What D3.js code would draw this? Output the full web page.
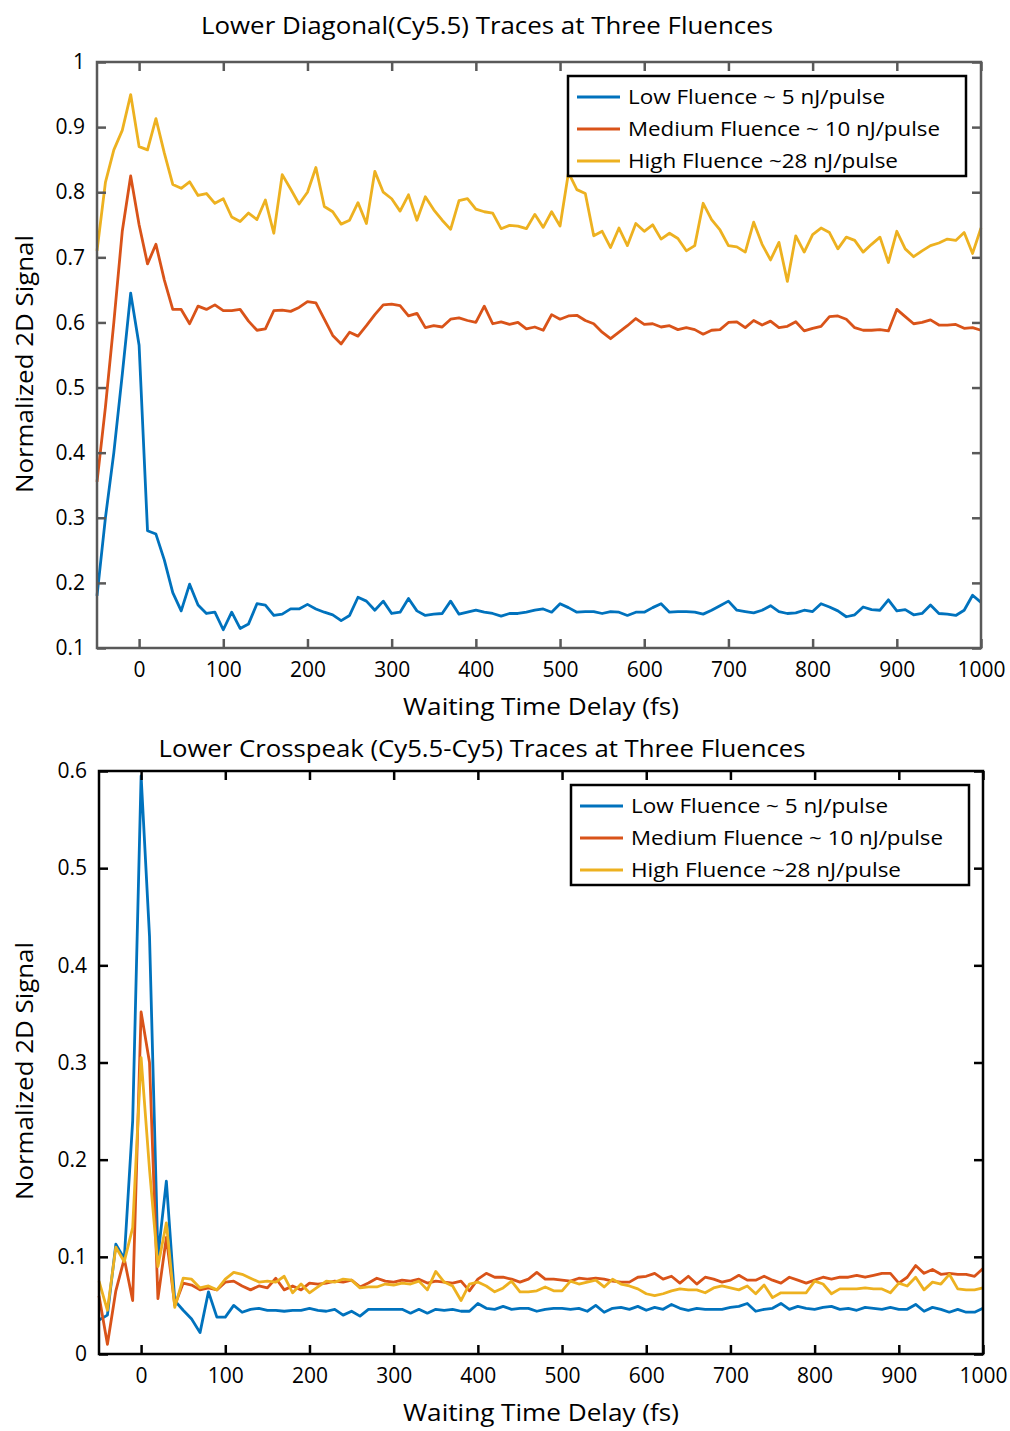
<!DOCTYPE html>
<html>
<head>
<meta charset="utf-8">
<script src="https://cdn.jsdelivr.net/npm/d3@7"></script>
<style>
  body { margin: 0; background: #fff; }
  svg text { font-family: "Open Sans", "Noto Sans", sans-serif; fill: #000; }
</style>
</head>
<body>
<div id="container"></div>
<script>
/* DATA */
const waitTimes = [-50,-40,-30,-20,-10,0,10,20,30,40,50,60,70,80,90,100,110,120,130,140,150,160,170,180,190,200,
  210,220,230,240,250,260,270,280,290,300,310,320,330,340,350,360,370,380,390,400,410,420,430,440,450,
  460,470,480,490,500,510,520,530,540,550,560,570,580,590,600,610,620,630,640,650,660,670,680,690,700,
  710,720,730,740,750,760,770,780,790,800,810,820,830,840,850,860,870,880,890,900,910,920,930,940,950,
  960,970,980,990,1000];

const seriesNames = ["Low Fluence ~ 5 nJ/pulse", "Medium Fluence ~ 10 nJ/pulse", "High Fluence ~28 nJ/pulse"];

// top panel : lower diagonal (Cy5.5)
const diagLow = [0.18,0.30,0.40,0.52,0.645,0.565,0.28,0.275,0.235,0.185,0.157,0.198,0.166,0.153,0.155,0.128,
  0.155,0.13,0.137,0.168,0.166,0.15,0.152,0.16,0.16,0.167,0.16,0.155,0.151,0.142,0.15,0.178,0.172,0.158,0.172,
  0.153,0.155,0.176,0.157,0.15,0.152,0.153,0.172,0.152,0.155,0.158,0.155,0.153,0.149,0.153,0.153,0.155,0.158,
  0.16,0.155,0.168,0.162,0.155,0.156,0.156,0.153,0.156,0.155,0.15,0.155,0.155,0.162,0.168,0.155,0.156,0.156,
  0.155,0.152,0.158,0.165,0.172,0.158,0.156,0.154,0.158,0.165,0.156,0.153,0.154,0.158,0.156,0.168,0.163,0.157,
  0.148,0.151,0.163,0.159,0.158,0.174,0.157,0.159,0.151,0.153,0.166,0.153,0.152,0.15,0.158,0.181,0.17];
const diagMedium = [0.355,0.47,0.6,0.74,0.825,0.75,0.69,0.72,0.665,0.62,0.62,0.598,0.625,0.62,0.627,0.618,
  0.618,0.62,0.602,0.588,0.59,0.618,0.619,0.617,0.623,0.632,0.63,0.605,0.58,0.567,0.585,0.579,0.595,0.612,0.627,
  0.628,0.626,0.61,0.614,0.592,0.595,0.593,0.605,0.607,0.603,0.6,0.625,0.598,0.601,0.597,0.6,0.59,0.593,0.588,
  0.612,0.605,0.61,0.611,0.603,0.598,0.585,0.575,0.585,0.595,0.606,0.597,0.598,0.593,0.595,0.589,0.592,0.589,
  0.582,0.588,0.589,0.6,0.601,0.592,0.603,0.596,0.602,0.592,0.594,0.601,0.587,0.591,0.594,0.609,0.61,0.605,
  0.592,0.588,0.588,0.589,0.587,0.62,0.609,0.598,0.6,0.604,0.596,0.596,0.597,0.591,0.592,0.588];
const diagHigh = [0.71,0.815,0.865,0.895,0.95,0.87,0.865,0.913,0.86,0.812,0.806,0.816,0.795,0.798,0.783,0.79,
  0.762,0.755,0.768,0.758,0.788,0.737,0.827,0.805,0.782,0.8,0.838,0.778,0.77,0.751,0.757,0.784,0.752,0.832,0.8,
  0.79,0.771,0.796,0.757,0.793,0.773,0.757,0.743,0.787,0.79,0.774,0.77,0.768,0.744,0.749,0.748,0.744,0.766,0.746,
  0.77,0.748,0.83,0.804,0.798,0.733,0.74,0.715,0.745,0.718,0.752,0.74,0.75,0.728,0.737,0.729,0.71,0.718,0.783,
  0.758,0.742,0.718,0.716,0.708,0.754,0.72,0.696,0.723,0.663,0.733,0.708,0.735,0.745,0.738,0.713,0.731,0.726,
  0.708,0.72,0.731,0.692,0.74,0.713,0.701,0.71,0.718,0.722,0.728,0.726,0.738,0.706,0.745];

// bottom panel : lower crosspeak (Cy5.5-Cy5)
const crossLow = [0.035,0.04,0.113,0.098,0.24,0.595,0.43,0.1,0.178,0.055,0.045,0.036,0.022,0.064,0.038,0.038,
  0.05,0.043,0.046,0.047,0.045,0.045,0.044,0.045,0.045,0.047,0.045,0.044,0.046,0.04,0.044,0.039,0.046,0.046,0.046,
  0.046,0.046,0.042,0.046,0.042,0.046,0.045,0.046,0.044,0.044,0.052,0.047,0.046,0.049,0.046,0.047,0.047,0.044,
  0.046,0.047,0.047,0.046,0.047,0.044,0.05,0.043,0.047,0.048,0.046,0.049,0.045,0.048,0.046,0.051,0.047,0.045,
  0.047,0.046,0.046,0.046,0.048,0.049,0.052,0.044,0.046,0.047,0.052,0.046,0.049,0.047,0.046,0.048,0.049,0.046,
  0.047,0.045,0.048,0.047,0.046,0.048,0.046,0.046,0.051,0.044,0.048,0.046,0.043,0.046,0.043,0.043,0.047];
const crossMedium = [0.06,0.01,0.065,0.098,0.055,0.352,0.3,0.057,0.12,0.05,0.073,0.071,0.066,0.068,0.066,0.074,
  0.075,0.07,0.066,0.07,0.068,0.078,0.066,0.07,0.066,0.073,0.072,0.073,0.075,0.074,0.076,0.069,0.073,0.078,0.075,
  0.074,0.076,0.075,0.077,0.073,0.075,0.074,0.073,0.075,0.065,0.077,0.083,0.079,0.079,0.077,0.074,0.077,0.084,
  0.077,0.077,0.076,0.075,0.078,0.077,0.078,0.077,0.075,0.074,0.074,0.079,0.08,0.083,0.077,0.08,0.073,0.08,0.072,
  0.079,0.077,0.074,0.076,0.081,0.076,0.076,0.08,0.076,0.073,0.079,0.076,0.073,0.076,0.079,0.077,0.079,0.079,
  0.081,0.079,0.081,0.083,0.083,0.073,0.079,0.091,0.083,0.087,0.082,0.083,0.082,0.082,0.08,0.088];
const crossHigh = [0.075,0.045,0.11,0.095,0.13,0.305,0.19,0.09,0.135,0.048,0.078,0.077,0.068,0.07,0.066,0.077,
  0.084,0.082,0.078,0.074,0.075,0.074,0.08,0.063,0.072,0.063,0.069,0.075,0.074,0.077,0.076,0.068,0.069,0.069,0.072,
  0.071,0.073,0.072,0.075,0.066,0.085,0.074,0.07,0.055,0.072,0.074,0.07,0.064,0.068,0.075,0.064,0.064,0.065,0.069,
  0.065,0.065,0.075,0.072,0.074,0.076,0.069,0.077,0.072,0.07,0.067,0.062,0.06,0.062,0.065,0.067,0.066,0.066,0.063,
  0.068,0.07,0.068,0.066,0.07,0.062,0.071,0.058,0.063,0.063,0.063,0.063,0.075,0.072,0.062,0.067,0.067,0.067,0.068,
  0.067,0.067,0.063,0.073,0.07,0.079,0.066,0.074,0.072,0.082,0.067,0.066,0.066,0.068];

const xTicks = [0,100,200,300,400,500,600,700,800,900,1000];
const diagYTicks = [0.1,0.2,0.3,0.4,0.5,0.6,0.7,0.8,0.9,1];
const crossYTicks = [0,0.1,0.2,0.3,0.4,0.5,0.6];

const colors = ["#0072BD", "#D95319", "#EDB120"];

/* SVG */
const width = 1010, height = 1431;
const svg = d3.select("#container")
  .append("svg")
  .attr("width", width)
  .attr("height", height);

function drawPanel(opts) {
  const xScale = d3.scaleLinear().domain([-50, 1000]).range([opts.left, opts.right]);
  const yScale = d3.scaleLinear().domain(opts.yDomain).range([opts.bottom, opts.top]);
  const g = svg.append("g");
  const tickLen = 9;

  // lines
  const line = d3.line()
    .x((d, i) => xScale(waitTimes[i]))
    .y(d => yScale(d));
  opts.series.forEach((s, k) => {
    g.append("path")
      .datum(s)
      .attr("d", line)
      .attr("fill", "none")
      .attr("stroke", colors[k])
      .attr("stroke-width", 2.8)
      .attr("stroke-linejoin", "round");
  });

  // axes (ticks inside, mirrored on all sides)
  const bottomAxis = d3.axisBottom(xScale).tickValues(xTicks).tickSizeInner(-tickLen).tickSizeOuter(0).tickPadding(14)
    .tickFormat(d3.format("d"));
  const topAxis = d3.axisTop(xScale).tickValues(xTicks).tickSizeInner(-tickLen).tickSizeOuter(0).tickFormat("");
  const leftAxis = d3.axisLeft(yScale).tickValues(opts.yTicks).tickSizeInner(-tickLen).tickSizeOuter(0).tickPadding(12)
    .tickFormat(d3.format("~g"));
  const rightAxis = d3.axisRight(yScale).tickValues(opts.yTicks).tickSizeInner(-tickLen).tickSizeOuter(0).tickFormat("");

  const axes = [
    g.append("g").attr("transform", "translate(0," + opts.bottom + ")").call(bottomAxis),
    g.append("g").attr("transform", "translate(0," + opts.top + ")").call(topAxis),
    g.append("g").attr("transform", "translate(" + opts.left + ",0)").call(leftAxis),
    g.append("g").attr("transform", "translate(" + opts.right + ",0)").call(rightAxis)
  ];
  axes.forEach(a => {
    a.select(".domain").remove();
    a.selectAll(".tick line").attr("stroke", opts.axisColor).attr("stroke-width", 2.5);
    a.selectAll(".tick text").style("font-size", "21px").attr("fill", "#000");
  });

  // box
  g.append("rect")
    .attr("x", opts.left).attr("y", opts.top)
    .attr("width", opts.right - opts.left).attr("height", opts.bottom - opts.top)
    .attr("fill", "none").attr("stroke", opts.axisColor).attr("stroke-width", 2.5);

  // title + labels
  g.append("text")
    .attr("x", opts.titleX).attr("y", opts.titleY)
    .attr("text-anchor", "middle")
    .attr("textLength", opts.titleW).attr("lengthAdjust", "spacingAndGlyphs")
    .style("font-size", "23px")
    .text(opts.title);
  g.append("text")
    .attr("x", 541).attr("y", opts.bottom + 67)
    .attr("text-anchor", "middle")
    .attr("textLength", 276).attr("lengthAdjust", "spacingAndGlyphs")
    .style("font-size", "23px")
    .text("Waiting Time Delay (fs)");
  g.append("text")
    .attr("transform", "translate(33," + opts.labelY + ") rotate(-90)")
    .attr("text-anchor", "middle")
    .attr("textLength", 258).attr("lengthAdjust", "spacingAndGlyphs")
    .style("font-size", "23px")
    .text("Normalized 2D Signal");

  // legend
  const lg = g.append("g").attr("transform", "translate(" + opts.legX + "," + opts.legY + ")");
  lg.append("rect")
    .attr("width", 398).attr("height", 100)
    .attr("fill", "#fff").attr("stroke", "#000").attr("stroke-width", 2.5);
  seriesNames.forEach((name, k) => {
    const yy = 21 + k * 32;
    lg.append("line")
      .attr("x1", 9).attr("x2", 52).attr("y1", yy).attr("y2", yy)
      .attr("stroke", colors[k]).attr("stroke-width", 2.8);
    lg.append("text")
      .attr("x", 60).attr("y", yy + 7)
      .attr("textLength", [257, 312, 270][k]).attr("lengthAdjust", "spacingAndGlyphs")
      .style("font-size", "20px")
      .text(name);
  });
}

drawPanel({
  left: 97, right: 981, top: 62, bottom: 648,
  yDomain: [0.1, 1], yTicks: diagYTicks,
  series: [diagLow, diagMedium, diagHigh],
  axisColor: "#595959",
  title: "Lower Diagonal(Cy5.5) Traces at Three Fluences", titleX: 487, titleY: 34, titleW: 572,
  labelY: 364,
  legX: 568, legY: 76
});

drawPanel({
  left: 99, right: 983, top: 771, bottom: 1354,
  yDomain: [0, 0.6], yTicks: crossYTicks,
  series: [crossLow, crossMedium, crossHigh],
  axisColor: "#000",
  title: "Lower Crosspeak (Cy5.5-Cy5) Traces at Three Fluences", titleX: 482, titleY: 757, titleW: 647,
  labelY: 1071,
  legX: 571, legY: 785
});
</script>
</body>
</html>
